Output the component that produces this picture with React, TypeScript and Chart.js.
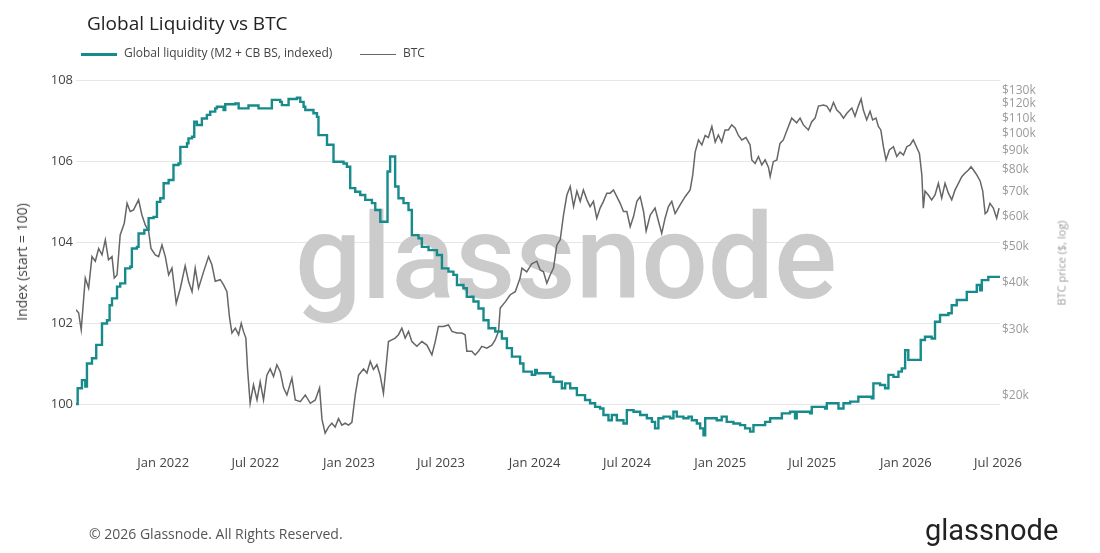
import React, { useEffect, useRef } from 'react';
import { Chart, registerables } from 'chart.js';

Chart.register(...registerables);

const FONT = '"Open Sans", "Noto Sans", sans-serif';
const LOGO_FONT = 'Roboto, Inter, "Open Sans", sans-serif';
const TEAL = '#178b8b';
const GRAY = '#666666';

// Time is in decimal years
const X_MIN = 2021.53;
const X_MAX = 2026.507;

const leftTicks = [100, 102, 104, 106, 108];
const rightTicks = [20000, 30000, 40000, 50000, 60000, 70000, 80000, 90000, 100000, 110000, 120000, 130000];
const xTickLabels = ['Jan 2022', 'Jul 2022', 'Jan 2023', 'Jul 2023', 'Jan 2024', 'Jul 2024', 'Jan 2025', 'Jul 2025', 'Jan 2026', 'Jul 2026'];

// [decimal year, index value]
const liquidityPoints: [number, number][] = [
  [2021.53, 100.0], [2021.539, 100.39], [2021.562, 100.59], [2021.58, 100.43], [2021.589, 101.0], [2021.616, 101.13],
  [2021.639, 101.46], [2021.67, 101.99], [2021.697, 102.07], [2021.711, 102.44], [2021.724, 102.61], [2021.751, 102.9],
  [2021.768, 102.98], [2021.795, 103.35], [2021.822, 103.39], [2021.831, 103.84], [2021.858, 103.88], [2021.867, 104.21],
  [2021.898, 104.3], [2021.921, 104.59], [2021.948, 104.62], [2021.966, 104.99], [2021.984, 105.08], [2022.002, 105.45],
  [2022.029, 105.53], [2022.055, 105.9], [2022.082, 105.94], [2022.092, 106.35], [2022.128, 106.44], [2022.136, 106.56],
  [2022.155, 106.6], [2022.167, 106.97], [2022.181, 106.89], [2022.208, 107.05], [2022.235, 107.14], [2022.253, 107.22],
  [2022.28, 107.3], [2022.289, 107.34], [2022.325, 107.26], [2022.334, 107.4], [2022.388, 107.42], [2022.406, 107.3],
  [2022.459, 107.37], [2022.513, 107.3], [2022.585, 107.51], [2022.63, 107.46], [2022.639, 107.38], [2022.675, 107.53],
  [2022.72, 107.56], [2022.738, 107.46], [2022.756, 107.34], [2022.765, 107.26], [2022.809, 107.18], [2022.828, 107.09],
  [2022.836, 106.64], [2022.882, 106.4], [2022.917, 105.98], [2022.971, 105.94], [2022.989, 105.86], [2023.007, 105.33],
  [2023.034, 105.24], [2023.061, 105.16], [2023.088, 105.04], [2023.124, 104.96], [2023.142, 104.79], [2023.169, 104.5],
  [2023.208, 105.74], [2023.222, 106.11], [2023.249, 105.37], [2023.267, 105.08], [2023.294, 104.96], [2023.321, 104.79],
  [2023.339, 104.17], [2023.375, 104.09], [2023.393, 103.88], [2023.429, 103.8], [2023.474, 103.68], [2023.501, 103.35],
  [2023.536, 103.27], [2023.563, 103.19], [2023.582, 102.94], [2023.617, 102.86], [2023.635, 102.65], [2023.671, 102.53],
  [2023.698, 102.36], [2023.725, 102.07], [2023.752, 101.87], [2023.788, 101.79], [2023.824, 101.62], [2023.851, 101.38],
  [2023.878, 101.17], [2023.922, 101.0], [2023.94, 100.8], [2023.985, 100.72], [2024.003, 100.84], [2024.012, 100.76],
  [2024.084, 100.67], [2024.102, 100.55], [2024.147, 100.39], [2024.165, 100.51], [2024.192, 100.39], [2024.228, 100.22],
  [2024.272, 100.1], [2024.299, 100.02], [2024.326, 99.93], [2024.353, 99.89], [2024.371, 99.73], [2024.398, 99.6],
  [2024.416, 99.73], [2024.443, 99.6], [2024.479, 99.52], [2024.497, 99.85], [2024.533, 99.81], [2024.569, 99.73],
  [2024.605, 99.65], [2024.632, 99.56], [2024.649, 99.4], [2024.667, 99.65], [2024.694, 99.69], [2024.73, 99.65],
  [2024.748, 99.81], [2024.766, 99.69], [2024.802, 99.65], [2024.829, 99.69], [2024.847, 99.6], [2024.874, 99.52],
  [2024.892, 99.4], [2024.91, 99.23], [2024.919, 99.65], [2024.981, 99.6], [2025.008, 99.69], [2025.035, 99.56],
  [2025.071, 99.52], [2025.107, 99.48], [2025.134, 99.4], [2025.161, 99.32], [2025.179, 99.48], [2025.242, 99.56],
  [2025.269, 99.65], [2025.332, 99.77], [2025.376, 99.81], [2025.403, 99.65], [2025.412, 99.81], [2025.484, 99.77],
  [2025.493, 99.93], [2025.565, 99.89], [2025.574, 100.02], [2025.637, 99.89], [2025.664, 100.02], [2025.7, 100.06],
  [2025.744, 100.18], [2025.816, 100.14], [2025.825, 100.51], [2025.861, 100.47], [2025.888, 100.39], [2025.906, 100.72],
  [2025.933, 100.67], [2025.96, 100.8], [2025.978, 100.88], [2025.996, 101.33], [2026.013, 101.09], [2026.08, 101.58],
  [2026.103, 101.66], [2026.139, 101.62], [2026.157, 102.03], [2026.184, 102.2], [2026.229, 102.24], [2026.247, 102.44],
  [2026.274, 102.57], [2026.328, 102.77], [2026.382, 102.94], [2026.4, 102.81], [2026.409, 103.06], [2026.444, 103.14],
  [2026.507, 103.14],
];

// [decimal year, BTC price in USD]
const btcPoints: [number, number][] = [
  [2021.53, 33900], [2021.544, 33300], [2021.558, 30000], [2021.58, 41200], [2021.598, 38700], [2021.616, 47000],
  [2021.634, 45700], [2021.652, 49400], [2021.67, 47500], [2021.688, 52100], [2021.705, 46100], [2021.724, 47000],
  [2021.736, 41200], [2021.751, 42000], [2021.768, 53700], [2021.79, 57700], [2021.805, 65200], [2021.822, 62000],
  [2021.84, 62600], [2021.867, 66600], [2021.885, 60700], [2021.903, 57100], [2021.921, 55000], [2021.934, 49400],
  [2021.957, 47500], [2021.975, 47000], [2021.993, 50500], [2022.011, 47000], [2022.029, 42000], [2022.047, 43800],
  [2022.07, 35300], [2022.092, 38700], [2022.118, 44400], [2022.136, 40400], [2022.155, 37900], [2022.172, 43800],
  [2022.19, 38700], [2022.217, 42800], [2022.244, 47000], [2022.262, 44700], [2022.28, 40400], [2022.307, 40800],
  [2022.325, 39500], [2022.343, 37900], [2022.357, 32300], [2022.37, 29400], [2022.388, 30300], [2022.406, 29100],
  [2022.42, 31200], [2022.432, 29700], [2022.445, 28500], [2022.454, 23600], [2022.468, 19100], [2022.486, 21400],
  [2022.505, 19500], [2022.522, 21800], [2022.54, 19500], [2022.558, 22700], [2022.576, 23600], [2022.594, 22500],
  [2022.612, 24200], [2022.63, 23200], [2022.648, 21000], [2022.666, 20100], [2022.693, 22300], [2022.711, 19500],
  [2022.738, 19300], [2022.765, 20100], [2022.792, 19100], [2022.819, 19500], [2022.842, 21000], [2022.855, 17300],
  [2022.872, 15900], [2022.89, 16500], [2022.908, 16900], [2022.926, 16500], [2022.944, 17400], [2022.962, 16700],
  [2022.98, 16900], [2022.998, 16700], [2023.016, 17000], [2023.034, 20100], [2023.052, 22700], [2023.079, 23600],
  [2023.097, 23000], [2023.115, 24700], [2023.132, 23500], [2023.151, 24200], [2023.168, 22700], [2023.186, 20300],
  [2023.201, 24200], [2023.213, 27900], [2023.231, 28200], [2023.249, 28500], [2023.267, 29100], [2023.285, 30300],
  [2023.303, 28500], [2023.321, 29700], [2023.339, 27900], [2023.366, 27100], [2023.393, 27900], [2023.42, 27300],
  [2023.447, 25700], [2023.465, 27900], [2023.482, 30600], [2023.509, 30600], [2023.536, 30900], [2023.555, 29700],
  [2023.582, 29400], [2023.608, 29400], [2023.626, 29100], [2023.635, 26300], [2023.662, 26300], [2023.68, 25700],
  [2023.698, 26300], [2023.716, 27100], [2023.743, 26800], [2023.77, 27300], [2023.788, 28200], [2023.806, 29700],
  [2023.815, 34300], [2023.842, 35600], [2023.869, 37200], [2023.896, 37900], [2023.922, 41200], [2023.932, 43800],
  [2023.958, 42800], [2023.985, 45000], [2024.012, 45700], [2024.03, 43300], [2024.048, 42800], [2024.066, 39900],
  [2024.084, 42000], [2024.102, 43800], [2024.12, 50500], [2024.138, 52100], [2024.156, 60700], [2024.174, 68600],
  [2024.192, 72300], [2024.21, 63900], [2024.228, 70300], [2024.246, 66000], [2024.263, 70800], [2024.282, 66600],
  [2024.299, 63900], [2024.317, 66000], [2024.335, 59500], [2024.353, 63300], [2024.371, 66000], [2024.389, 69400],
  [2024.407, 69400], [2024.425, 70800], [2024.443, 67900], [2024.461, 65200], [2024.479, 62000], [2024.497, 62000],
  [2024.515, 56500], [2024.533, 60100], [2024.551, 66000], [2024.569, 67900], [2024.587, 62000], [2024.601, 55000],
  [2024.623, 60700], [2024.649, 63300], [2024.667, 58500], [2024.685, 54200], [2024.703, 59500], [2024.721, 63900],
  [2024.739, 66000], [2024.757, 61200], [2024.784, 64600], [2024.811, 67900], [2024.838, 70800], [2024.852, 77600],
  [2024.865, 89300], [2024.883, 96200], [2024.901, 93300], [2024.919, 98900], [2024.936, 97600], [2024.955, 104500],
  [2024.973, 95000], [2024.99, 99200], [2025.008, 95000], [2025.026, 102300], [2025.044, 102300], [2025.062, 105500],
  [2025.08, 103600], [2025.098, 98900], [2025.116, 96200], [2025.139, 97600], [2025.161, 93300], [2025.17, 85100],
  [2025.188, 83300], [2025.206, 86900], [2025.224, 82500], [2025.242, 85100], [2025.26, 81300], [2025.269, 76800],
  [2025.286, 84200], [2025.305, 85100], [2025.322, 94200], [2025.34, 96200], [2025.358, 101600], [2025.385, 110000],
  [2025.412, 106900], [2025.43, 110000], [2025.448, 105500], [2025.475, 102300], [2025.493, 107600], [2025.511, 110000],
  [2025.529, 118400], [2025.556, 119200], [2025.574, 118400], [2025.592, 114700], [2025.61, 121100], [2025.628, 115600],
  [2025.646, 113300], [2025.664, 110000], [2025.682, 113300], [2025.709, 117000], [2025.726, 111300], [2025.744, 118400],
  [2025.759, 123700], [2025.771, 115600], [2025.789, 108800], [2025.807, 114700], [2025.821, 108800], [2025.839, 110000],
  [2025.852, 104500], [2025.865, 102300], [2025.879, 92300], [2025.893, 85100], [2025.911, 90500], [2025.933, 92300],
  [2025.951, 86900], [2025.969, 89300], [2025.987, 87700], [2026.005, 92300], [2026.023, 93300], [2026.04, 96200],
  [2026.059, 91700], [2026.073, 88500], [2026.086, 77600], [2026.094, 63300], [2026.103, 70300], [2026.121, 68600],
  [2026.139, 66600], [2026.157, 68600], [2026.175, 73700], [2026.193, 67300], [2026.211, 73700], [2026.229, 69400],
  [2026.247, 66600], [2026.265, 70800], [2026.283, 73700], [2026.301, 76800], [2026.319, 78500], [2026.337, 80000],
  [2026.351, 81600], [2026.364, 80000], [2026.382, 77600], [2026.4, 74800], [2026.414, 70300], [2026.427, 61200],
  [2026.439, 62000], [2026.453, 65200], [2026.471, 63300], [2026.489, 59500], [2026.502, 63300],
];

function labelToDecimalYear(label: string): number {
  const [mon, yr] = label.split(' ');
  const year = parseInt(yr, 10);
  const month = mon === 'Jan' ? 0 : 6;
  const start = Date.UTC(year, 0, 1);
  const end = Date.UTC(year + 1, 0, 1);
  return year + (Date.UTC(year, month, 1) - start) / (end - start);
}

const xTickValues = xTickLabels.map(labelToDecimalYear);

const watermarkPlugin = {
  id: 'watermark',
  beforeDatasetsDraw(chart: any) {
    const ctx = chart.ctx as CanvasRenderingContext2D;
    ctx.save();
    ctx.font = '500 118px ' + LOGO_FONT;
    ctx.fillStyle = '#cbcbcb';
    ctx.textBaseline = 'alphabetic';
    ctx.textAlign = 'left';
    const text = 'glassnode';
    const w = ctx.measureText(text).width;
    const targetW = 542;
    ctx.translate(295, 298);
    ctx.scale(targetW / w, 1);
    ctx.fillText(text, 0, 0);
    ctx.restore();
  },
};

export default function App() {
  const canvasRef = useRef<HTMLCanvasElement | null>(null);

  useEffect(() => {
    document.body.style.margin = '0';
    const canvas = canvasRef.current;
    if (!canvas) return;
    Chart.defaults.font.family = FONT;
    const chart = new Chart(canvas, {
      type: 'line',
      data: {
        datasets: [
          {
            label: 'Global liquidity (M2 + CB BS, indexed)',
            data: liquidityPoints.map(([x, y]) => ({ x, y })),
            yAxisID: 'y',
            borderColor: TEAL,
            borderWidth: 2.4,
            stepped: 'before',
            pointRadius: 0,
            fill: false,
          },
          {
            label: 'BTC',
            data: btcPoints.map(([x, y]) => ({ x, y })),
            yAxisID: 'y1',
            borderColor: GRAY,
            borderWidth: 1.5,
            tension: 0,
            pointRadius: 0,
            fill: false,
          },
        ],
      },
      options: {
        animation: false,
        responsive: false,
        maintainAspectRatio: false,
        layout: { padding: { top: 80, left: 0, right: 0, bottom: 0 } },
        plugins: {
          legend: { display: false },
          title: { display: false },
          tooltip: { enabled: false },
        },
        elements: { point: { radius: 0 } },
        scales: {
          x: {
            type: 'linear',
            min: X_MIN,
            max: X_MAX,
            grid: { display: false, drawTicks: false },
            border: { display: false },
            ticks: {
              padding: 15,
              color: '#444444',
              font: { family: FONT, size: 13 },
              autoSkip: false,
              maxRotation: 0,
              callback: (_v: any, i: number) => xTickLabels[i],
            },
            afterBuildTicks: (scale: any) => {
              scale.ticks = xTickValues.map((value) => ({ value }));
            },
            afterFit: (scale: any) => {
              scale.height = 553 - 440.5;
            },
          },
          y: {
            type: 'linear',
            position: 'left',
            min: 99.1,
            max: 108,
            grid: { color: '#e6e6e6', lineWidth: 1, drawTicks: false },
            border: { display: false },
            ticks: {
              padding: 3,
              color: '#444444',
              font: { family: FONT, size: 13 },
              autoSkip: false,
            },
            afterBuildTicks: (scale: any) => {
              scale.ticks = leftTicks.map((value) => ({ value }));
            },
            afterFit: (scale: any) => {
              scale.width = 76;
            },
          },
          y1: {
            type: 'logarithmic',
            position: 'right',
            min: 15200,
            max: 139000,
            grid: { display: false, drawTicks: false },
            border: { display: false },
            ticks: {
              padding: 2,
              color: '#9a9a9a',
              font: { family: FONT, size: 12 },
              autoSkip: false,
              callback: (v: any) => '$' + Math.round(Number(v) / 1000) + 'k',
            },
            afterBuildTicks: (scale: any) => {
              scale.ticks = rightTicks.map((value) => ({ value }));
            },
            afterFit: (scale: any) => {
              scale.width = 100;
            },
          },
        },
      } as any,
      plugins: [watermarkPlugin],
    });
    return () => chart.destroy();
  }, []);

  return (
    <div style={{ position: 'fixed', left: 0, top: 0, width: 1100, height: 553, background: '#ffffff', overflow: 'hidden', fontFamily: FONT }}>
      <canvas ref={canvasRef} width={1100} height={553} style={{ position: 'absolute', left: 0, top: 0, width: 1100, height: 553 }} />
      <div style={{ position: 'absolute', left: 87, top: 14, fontSize: 19, lineHeight: '19px', color: '#222222', whiteSpace: 'nowrap' }}>
        Global Liquidity vs BTC
      </div>
      <div style={{ position: 'absolute', left: 81, top: 53, width: 36, height: 3, background: TEAL }} />
      <div style={{ position: 'absolute', left: 124, top: 47, fontSize: 12, lineHeight: '12px', color: '#444444', whiteSpace: 'nowrap' }}>
        Global liquidity (M2 + CB BS, indexed)
      </div>
      <div style={{ position: 'absolute', left: 360, top: 53.5, width: 36, height: 1.5, background: GRAY }} />
      <div style={{ position: 'absolute', left: 403, top: 47, fontSize: 12, lineHeight: '12px', color: '#444444', whiteSpace: 'nowrap' }}>
        BTC
      </div>
      <div style={{ position: 'absolute', left: 22, top: 262, transform: 'translate(-50%, -50%) rotate(-90deg)', fontSize: 14, lineHeight: '14px', color: '#444444', whiteSpace: 'nowrap' }}>
        Index (start = 100)
      </div>
      <div style={{ position: 'absolute', left: 1061, top: 263, transform: 'translate(-50%, -50%) rotate(-90deg)', fontSize: 11, lineHeight: '11px', color: '#9a9a9a', whiteSpace: 'nowrap' }}>
        BTC price ($, log)
      </div>
      <div style={{ position: 'absolute', left: 89, top: 527, fontSize: 14, lineHeight: '14px', color: '#555555', whiteSpace: 'nowrap' }}>
        © 2026 Glassnode. All Rights Reserved.
      </div>
      <div style={{ position: 'absolute', left: 925, top: 516, fontSize: 29, lineHeight: '29px', color: '#222222', fontFamily: LOGO_FONT, fontWeight: 400, whiteSpace: 'nowrap' }}>
        glassnode
      </div>
    </div>
  );
}
